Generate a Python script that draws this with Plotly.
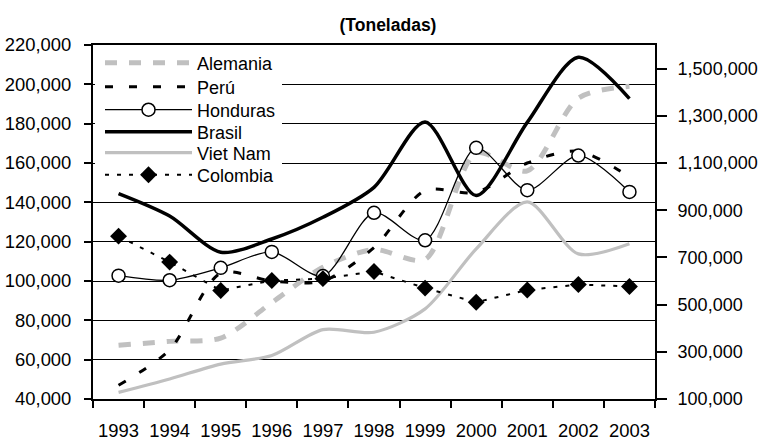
import plotly.graph_objects as go

years = ["1993", "1994", "1995", "1996", "1997", "1998", "1999", "2000", "2001", "2002", "2003"]

# Left axis (toneladas)
alemania = [67300, 69300, 71000, 89000, 107000, 116000, 111000, 165000, 156000, 193000, 199000]
peru = [47000, 65000, 104000, 100000, 100000, 117000, 146000, 145000, 160000, 166000, 153000]
honduras = [102700, 100400, 106700, 114800, 102500, 134700, 120700, 167700, 146200, 163800, 145300]

# Right axis (toneladas)
brasil = [970000, 875000, 722000, 778000, 870000, 997000, 1274000, 962000, 1272000, 1548000, 1373000]
vietnam = [128000, 185000, 248000, 284000, 394000, 383000, 482000, 736000, 935000, 715000, 758000]
colombia = [790000, 680000, 560000, 602000, 610000, 640000, 570000, 510000, 562000, 585000, 577000]

left_range = [40000, 220000]
right_range = [100000, 1600000]
right_ticks = [100000, 300000, 500000, 700000, 900000, 1100000, 1300000, 1500000]

FONT = "Liberation Sans, Arial, sans-serif"
GRAY = "#c0c0c0"

W, H = 759, 441
ML, MR, MT, MB = 93, 104, 45, 42
PW, PH = W - ML - MR, H - MT - MB

fig = go.Figure()

fig.add_trace(go.Scatter(x=years, y=alemania, name="Alemania", mode="lines", legend="legend",
                         line=dict(color=GRAY, width=5, dash="12px,12px", shape="spline", smoothing=0.8)))
fig.add_trace(go.Scatter(x=years, y=peru, name="Perú", mode="lines", legend="legend2",
                         line=dict(color="black", width=3, dash="8px,16px", shape="spline", smoothing=0.8)))
fig.add_trace(go.Scatter(x=years, y=honduras, name="Honduras", mode="lines+markers", legend="legend3",
                         line=dict(color="black", width=1.3, shape="spline", smoothing=0.8),
                         marker=dict(symbol="circle", size=13, color="white",
                                     line=dict(color="black", width=1.5))))
fig.add_trace(go.Scatter(x=years, y=brasil, name="Brasil", mode="lines", yaxis="y2", legend="legend4",
                         line=dict(color="black", width=3.5, shape="spline", smoothing=0.8)))
fig.add_trace(go.Scatter(x=years, y=vietnam, name="Viet Nam", mode="lines", yaxis="y2", legend="legend5",
                         line=dict(color=GRAY, width=3.2, shape="spline", smoothing=0.8)))
fig.add_trace(go.Scatter(x=years, y=colombia, name="Colombia", mode="lines+markers", yaxis="y2",
                         legend="legend6",
                         line=dict(color="black", width=2, dash="4px,8px"),
                         marker=dict(symbol="diamond", size=13, color="black")))

# legend entries: one small legend per series, stacked at the reference's row positions
legend_rows_px = [63, 87, 110, 132, 153, 175]
legend_x = 7 / PW
legends = {}
for i, cy in enumerate(legend_rows_px):
    key = "legend" if i == 0 else f"legend{i + 1}"
    legends[key] = dict(x=legend_x, y=1 - (cy - MT) / PH, xanchor="left", yanchor="middle",
                        bgcolor="rgba(0,0,0,0)", borderwidth=0,
                        font=dict(family=FONT, size=18, color="black"),
                        itemwidth=87, tracegroupgap=0)

fig.update_layout(
    width=W, height=H,
    margin=dict(l=ML, r=MR, t=MT, b=MB, autoexpand=False),
    paper_bgcolor="white", plot_bgcolor="white",
    font=dict(family=FONT, size=18.4, color="black"),
    title=dict(text="(Toneladas)", x=388 / W, xref="container", xanchor="center",
               y=1 - 25 / H, yref="container", yanchor="middle",
               font=dict(family=FONT, size=17.5, color="black", weight="bold")),
    showlegend=True,
    xaxis=dict(type="category", range=[-0.5, 10.5], tickson="boundaries",
               ticks="outside", ticklen=7, tickwidth=1.5, tickcolor="black",
               showline=True, linecolor="black", linewidth=2, mirror=True,
               showgrid=False, ticklabelstandoff=14, zeroline=False, automargin=False),
    yaxis=dict(range=left_range, dtick=20000, tickformat=",",
               ticks="outside", ticklen=7, tickwidth=1.5, tickcolor="black",
               showline=True, linecolor="black", linewidth=2, mirror=True,
               showgrid=True, gridcolor="black", gridwidth=1.3, zeroline=False,
               ticklabelstandoff=9, automargin=False),
    yaxis2=dict(range=right_range, tickvals=right_ticks, tickformat=",",
                overlaying="y", side="right", anchor="x",
                ticks="outside", ticklen=10, tickwidth=1.5, tickcolor="black",
                tickfont=dict(family=FONT, size=18, color="black"),
                showline=True, linecolor="black", linewidth=2,
                showgrid=False, zeroline=False, ticklabelstandoff=7, automargin=False),
    yaxis3=dict(range=right_range, tickvals=right_ticks, showticklabels=False,
                overlaying="y", side="right", anchor="x",
                ticks="inside", ticklen=10, tickwidth=1.5, tickcolor="black",
                showline=False, showgrid=False, zeroline=False, automargin=False),
    # white box behind the legend rows (hides gridlines there, as in the reference)
    shapes=[dict(type="rect", xref="paper", yref="paper", layer="above",
                 x0=2 / PW, x1=(282 - ML) / PW, y0=1 - 2 / PH, y1=1 - (188 - MT) / PH,
                 fillcolor="white", line=dict(width=0))],
    **legends,
)

fig.write_html("out.html", config={"displayModeBar": False},
               post_script="document.body.style.margin='0px';")
